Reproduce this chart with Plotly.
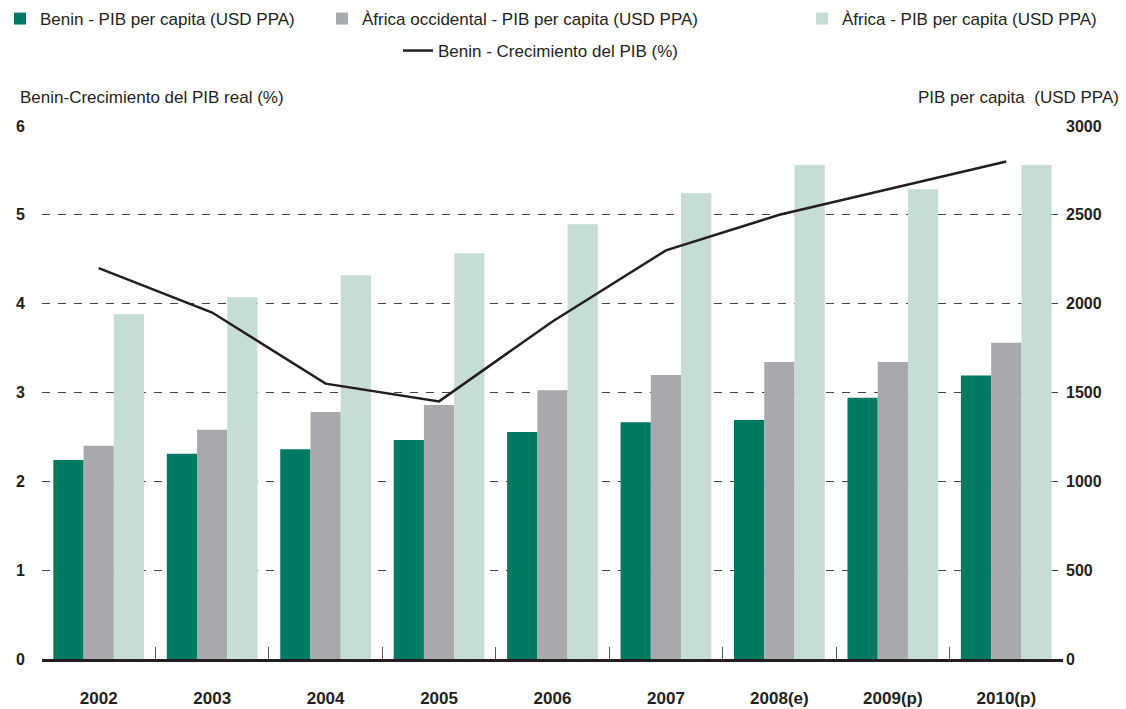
import plotly.graph_objects as go

# ---- data ----
years = ["2002", "2003", "2004", "2005", "2006", "2007", "2008(e)", "2009(p)", "2010(p)"]
benin_pib = [1120, 1155, 1180, 1232, 1277, 1333, 1345, 1470, 1595]
occidental_pib = [1200, 1290, 1390, 1430, 1513, 1598, 1672, 1672, 1780]
africa_pib = [1940, 2036, 2160, 2284, 2447, 2621, 2780, 2644, 2780]
benin_growth = [4.4, 3.9, 3.1, 2.9, 3.8, 4.6, 5.0, 5.3, 5.6]

left_ticks = [0, 1, 2, 3, 4, 5, 6]
right_ticks = [0, 500, 1000, 1500, 2000, 2500, 3000]

W, H = 1126, 709
ML, MR, MT, MB = 42, 63, 126, 50
PW, PH = W - ML - MR, H - MT - MB

FONT = "Liberation Sans, Arial, Helvetica, sans-serif"
DARK = "#231f20"
C_BENIN = "#007a63"
C_OCC = "#a8a9ad"
C_AFR = "#c5ddd5"


def px_x(px):
    return (px - ML) / PW


def px_y(py):
    return (H - MB - py) / PH


fig = go.Figure()

fig.add_trace(go.Bar(x=years, y=benin_pib, name="Benin - PIB per capita (USD PPA)",
                     marker=dict(color=C_BENIN, line=dict(width=0)), legend="legend"))
fig.add_trace(go.Bar(x=years, y=occidental_pib, name="Àfrica occidental - PIB per capita (USD PPA)",
                     marker=dict(color=C_OCC, line=dict(width=0)), legend="legend2"))
fig.add_trace(go.Bar(x=years, y=africa_pib, name="Àfrica - PIB per capita (USD PPA)",
                     marker=dict(color=C_AFR, line=dict(width=0)), legend="legend3"))
fig.add_trace(go.Scatter(x=years, y=benin_growth, name="Benin - Crecimiento del PIB (%)",
                         mode="lines", line=dict(color=DARK, width=2.5), yaxis="y2",
                         legend="legend4"))

legend_font = dict(family=FONT, size=17, color=DARK)


def leg(xpx, ypx):
    return dict(x=xpx / W, y=1 - ypx / H, xref="container", yref="container",
                xanchor="left", yanchor="middle", orientation="h",
                font=legend_font, bgcolor="rgba(0,0,0,0)", borderwidth=0)


fig.update_layout(
    width=W, height=H,
    margin=dict(l=ML, r=MR, t=MT, b=MB, pad=0, autoexpand=False),
    paper_bgcolor="white", plot_bgcolor="white",
    font=dict(family=FONT, color=DARK),
    barmode="group", bargap=0.2, bargroupgap=0,
    showlegend=True,
    legend=leg(-18, 19),
    legend2=leg(322, 19),
    legend3=leg(802, 19),
    legend4=leg(398, 51),
    xaxis=dict(
        type="category", showgrid=False, zeroline=False, automargin=False,
        showline=True, linecolor=DARK, linewidth=3,
        ticks="inside", tickson="boundaries", ticklen=12, tickwidth=1, tickcolor="#555555",
        tickfont=dict(family=FONT, size=17, color=DARK, weight="bold"),
        ticklabelstandoff=22,
    ),
    yaxis=dict(
        side="right", range=[0, 3000], tickvals=right_ticks, automargin=False,
        showgrid=True, gridcolor="#444444", gridwidth=1, griddash="8px,8px",
        zeroline=False, showline=False, ticks="",
        tickfont=dict(family=FONT, size=16, color=DARK, weight="bold"),
        ticklabelstandoff=2,
    ),
    yaxis2=dict(
        side="left", overlaying="y", range=[0, 6], tickvals=left_ticks, automargin=False,
        showgrid=False, zeroline=False, showline=False, ticks="",
        tickfont=dict(family=FONT, size=16, color=DARK, weight="bold"),
        ticklabelstandoff=16,
    ),
    annotations=[
        dict(text="Benin-Crecimiento del PIB real (%)", xref="paper", yref="paper",
             x=px_x(18), y=px_y(97), xanchor="left", yanchor="middle", showarrow=False,
             font=dict(family=FONT, size=17, color=DARK)),
        dict(text="PIB per capita  (USD PPA)", xref="paper", yref="paper",
             x=px_x(1121), y=px_y(97), xanchor="right", yanchor="middle", showarrow=False,
             font=dict(family=FONT, size=17, color=DARK)),
    ],
)

fig.write_html("out.html",
               config={"displayModeBar": False},
               post_script="document.body.style.margin='0';document.body.style.overflow='hidden';")
